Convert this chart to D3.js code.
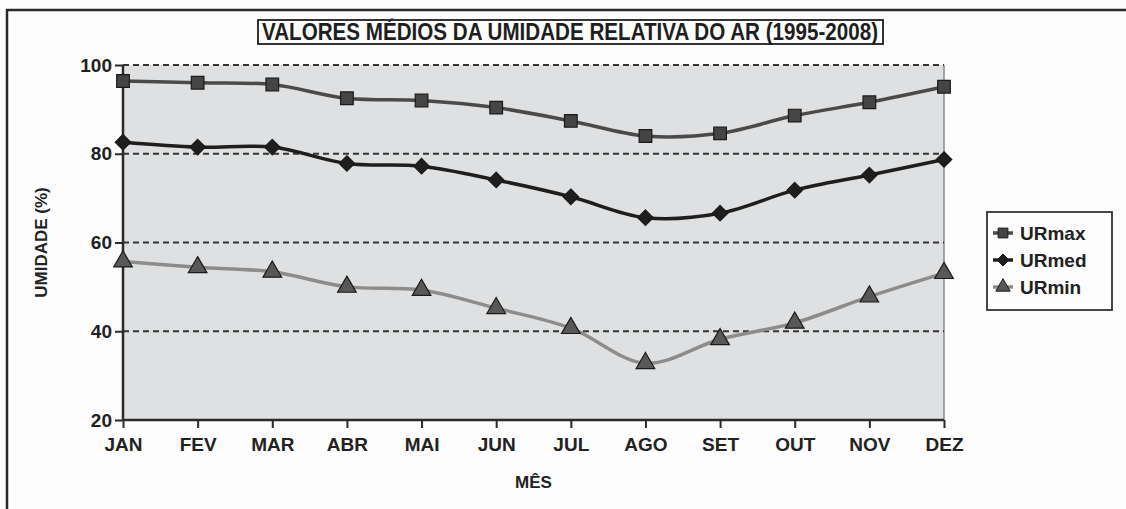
<!DOCTYPE html>
<html>
<head>
<meta charset="utf-8">
<script src="https://cdn.jsdelivr.net/npm/d3@7"></script>
<style>
  body { margin: 0; background: #fdfdfd; }
  svg { display: block; font-family: "Liberation Sans", Arial, sans-serif; }
</style>
</head>
<body>
<div class="chart-container"></div>
<script>
// Data
const months = ["JAN", "FEV", "MAR", "ABR", "MAI", "JUN", "JUL", "AGO", "SET", "OUT", "NOV", "DEZ"];
const urMax = [96.4, 96.0, 95.6, 92.5, 92.0, 90.4, 87.4, 84.0, 84.6, 88.6, 91.6, 95.1];
const urMed = [82.6, 81.5, 81.5, 77.8, 77.2, 74.1, 70.3, 65.6, 66.6, 71.8, 75.2, 78.7];
const urMin = [55.7, 54.4, 53.4, 50.0, 49.3, 45.2, 40.7, 32.8, 38.2, 41.9, 47.8, 53.1];
const yTicks = [20, 40, 60, 80, 100];
const gridValues = [40, 60, 80, 100];

const seriesNames = ["URmax", "URmed", "URmin"];

// rotated square for the URmed marker
const diamond = {
    draw(context, size) {
        const r = Math.sqrt(size) / 2 * Math.SQRT2;
        context.moveTo(0, -r);
        context.lineTo(r, 0);
        context.lineTo(0, r);
        context.lineTo(-r, 0);
        context.closePath();
    }
};

function draw() {
    const width = 1126;
    const height = 509;
    const marginTop = 65;
    const marginRight = 182;
    const marginBottom = 89;
    const marginLeft = 123;

    const svg = d3.select('.chart-container').append('svg')
        .attr('width', width)
        .attr('height', height);

    // outer frame (left + top only visible)
    svg.append('path')
        .attr('d', `M7,${height} L7,10 L${width},10`)
        .attr('fill', 'none')
        .attr('stroke', '#2a2a2a')
        .attr('stroke-width', 2.5);

    const x = d3.scalePoint()
        .domain(months)
        .range([marginLeft, width - marginRight]);

    const y = d3.scaleLinear()
        .domain([20, 100])
        .range([height - marginBottom, marginTop]);

    // plot background
    svg.append('rect')
        .attr('x', marginLeft)
        .attr('y', y(100))
        .attr('width', x('DEZ') - marginLeft)
        .attr('height', y(20) - y(100))
        .attr('fill', '#dfe0e2');

    svg.append('line')
        .attr('x1', x('DEZ')).attr('x2', x('DEZ'))
        .attr('y1', y(100)).attr('y2', y(20))
        .attr('stroke', '#8a8a8a')
        .attr('stroke-width', 1.5);

    // dashed gridlines
    svg.append('g')
        .selectAll('line')
        .data(gridValues)
        .enter()
        .append('line')
        .attr('x1', marginLeft)
        .attr('x2', x('DEZ'))
        .attr('y1', d => y(d))
        .attr('y2', d => y(d))
        .attr('stroke', '#333')
        .attr('stroke-width', 1.8)
        .attr('stroke-dasharray', '6,4');

    // axes
    const yAxis = svg.append('g')
        .attr('transform', `translate(${marginLeft},0)`)
        .call(d3.axisLeft(y).tickValues(yTicks).tickSize(8).tickPadding(3));

    const xAxis = svg.append('g')
        .attr('transform', `translate(0,${y(20)})`)
        .call(d3.axisBottom(x).tickSize(8).tickPadding(10).tickSizeOuter(0));

    [yAxis, xAxis].forEach(a => {
        a.select('.domain').attr('stroke', '#2a2a2a').attr('stroke-width', 2.5);
        a.selectAll('.tick line').attr('stroke', '#2a2a2a').attr('stroke-width', 2);
        a.selectAll('.tick text')
            .attr('fill', '#222')
            .attr('font-size', 19)
            .attr('font-weight', 'bold')
            .attr('font-family', '"Liberation Sans", Arial, sans-serif');
    });
    yAxis.select('.domain').attr('d', `M0,${y(20)}V${y(100)}`);
    xAxis.select('.domain').attr('d', `M${marginLeft},0H${x('DEZ')}`);

    // lines
    const styles = [
        { data: urMax, stroke: '#4a4a4a', width: 3.5, fill: '#454545', marker: d3.symbolSquare, size: 160 },
        { data: urMed, stroke: '#1e1e1e', width: 3.5, fill: '#1e1e1e', marker: diamond, size: 120 },
        { data: urMin, stroke: '#8c8c8c', width: 3.5, fill: '#585858', marker: d3.symbolTriangle, size: 150 }
    ];

    const line = d3.line()
        .x((d, i) => x(months[i]))
        .y(d => y(d))
        .curve(d3.curveCatmullRom.alpha(0.5));

    styles.forEach(s => {
        svg.append('path')
            .datum(s.data)
            .attr('fill', 'none')
            .attr('stroke', s.stroke)
            .attr('stroke-width', s.width)
            .attr('d', line);

        svg.append('g')
            .selectAll('path')
            .data(s.data)
            .enter()
            .append('path')
            .attr('transform', (d, i) => `translate(${x(months[i])},${y(d)})`)
            .attr('d', d3.symbol().type(s.marker).size(s.size))
            .attr('fill', s.fill)
            .attr('stroke', '#1a1a1a')
            .attr('stroke-width', 1.2);
    });

    // title with box
    svg.append('text')
        .attr('x', 570)
        .attr('y', 40)
        .attr('text-anchor', 'middle')
        .attr('textLength', 616)
        .attr('lengthAdjust', 'spacingAndGlyphs')
        .attr('font-family', '"Liberation Sans Narrow", "Arial Narrow", "Liberation Sans", sans-serif')
        .attr('font-size', 23)
        .attr('font-weight', 'bold')
        .attr('fill', '#1e1e1e')
        .text('VALORES MÉDIOS DA UMIDADE RELATIVA DO AR (1995-2008)');

    svg.append('rect')
        .attr('x', 258)
        .attr('y', 20)
        .attr('width', 625)
        .attr('height', 24)
        .attr('fill', 'none')
        .attr('stroke', '#1e1e1e')
        .attr('stroke-width', 1.8);

    // axis titles
    svg.append('text')
        .attr('transform', `translate(47,${(y(20) + y(100)) / 2}) rotate(-90)`)
        .attr('text-anchor', 'middle')
        .attr('font-size', 17)
        .attr('font-weight', 'bold')
        .attr('fill', '#222')
        .text('UMIDADE (%)');

    svg.append('text')
        .attr('x', (marginLeft + x('DEZ')) / 2)
        .attr('y', 488)
        .attr('text-anchor', 'middle')
        .attr('font-size', 17)
        .attr('font-weight', 'bold')
        .attr('fill', '#222')
        .text('MÊS');

    // legend
    const legend = svg.append('g').attr('id', 'legend');
    legend.append('rect')
        .attr('x', 987)
        .attr('y', 212)
        .attr('width', 125)
        .attr('height', 98)
        .attr('fill', '#fdfdfd')
        .attr('stroke', '#333')
        .attr('stroke-width', 1.8);

    const items = legend.selectAll('g.item')
        .data(styles)
        .enter()
        .append('g')
        .attr('class', 'item')
        .attr('transform', (d, i) => `translate(1003,${233 + i * 27})`);

    items.append('line')
        .attr('x1', -10).attr('x2', 10)
        .attr('stroke', d => d.stroke)
        .attr('stroke-width', 3.5);

    items.append('path')
        .attr('d', d => d3.symbol().type(d.marker).size(d.size * 0.6)())
        .attr('fill', d => d.fill)
        .attr('stroke', '#1a1a1a')
        .attr('stroke-width', 1);

    items.append('text')
        .attr('x', 17)
        .attr('y', 7)
        .attr('font-size', 19)
        .attr('font-weight', 'bold')
        .attr('fill', '#222')
        .text((d, i) => seriesNames[i]);
}

draw();
</script>
</body>
</html>
